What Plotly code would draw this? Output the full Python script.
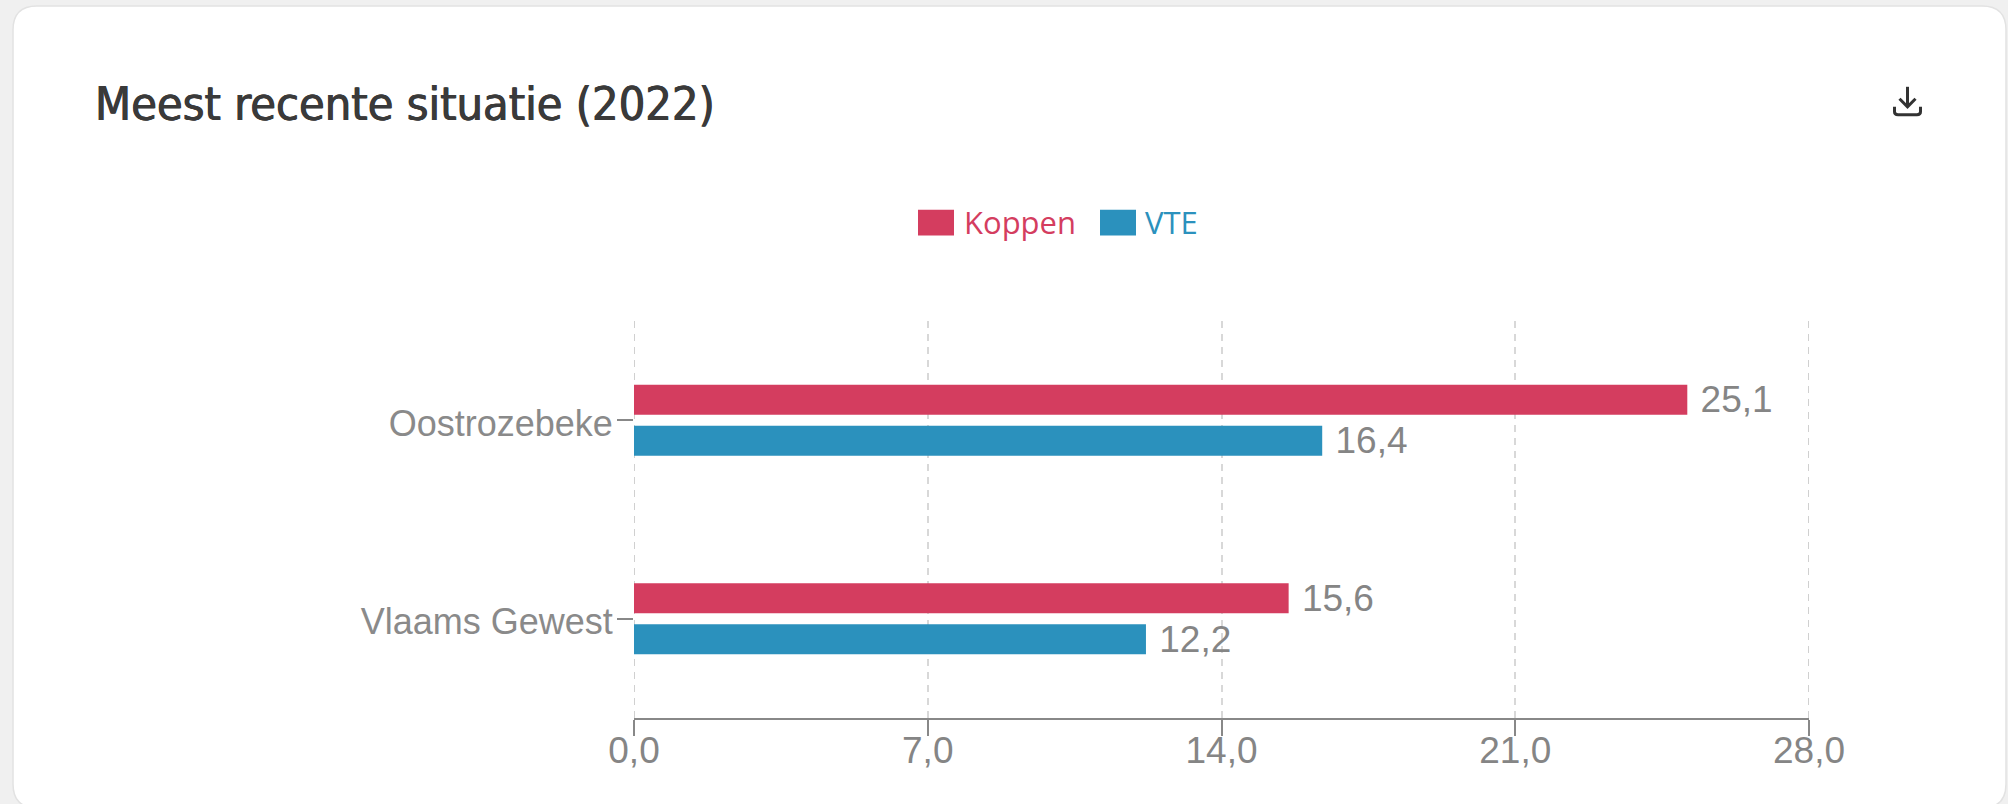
import plotly.graph_objects as go

categories = ["Oostrozebeke", "Vlaams Gewest"]
koppen = [25.1, 15.6]
vte = [16.4, 12.2]
x_ticks = [0, 7, 14, 21, 28]
edge_grid = [0, 28]
title_text = "Meest recente situatie (2022)"
series_names = ["Koppen", "VTE"]
RED = "#d43d5f"
BLUE = "#2b91bd"

W, H = 2008, 804
L, R, T, B = 634, 199, 320.5, 86
PW, PH = W - L - R, H - T - B


def fx(x):
    return (x - L) / PW


def fy(y):
    return 1 - (y - T) / PH


def path(*cmds):
    out = []
    for c in cmds:
        if isinstance(c, str):
            out.append(c)
        else:
            out.append(f"{fx(c[0]):.5f},{fy(c[1]):.5f}")
    return " ".join(out)


fig = go.Figure()
for name, vals, col in [(series_names[0], koppen, RED), (series_names[1], vte, BLUE)]:
    fig.add_trace(go.Bar(
        y=categories, x=vals, name=name, orientation="h",
        marker=dict(color=col, line=dict(width=0)),
        text=vals, texttemplate="\u00a0%{x:.1f}", textposition="outside", constraintext="none",
        textfont=dict(family="Liberation Sans", size=37, color="#858585"),
        cliponaxis=False, showlegend=False,
    ))

cx0, cy0, cx1, cy1, r = 13, 5, 2006, 808, 24
card = path("M", (cx0 + r, cy0), "L", (cx1 - r, cy0), "Q", (cx1, cy0), (cx1, cy0 + r),
            "L", (cx1, cy1 - r), "Q", (cx1, cy1), (cx1 - r, cy1),
            "L", (cx0 + r, cy1), "Q", (cx0, cy1), (cx0, cy1 - r),
            "L", (cx0, cy0 + r), "Q", (cx0, cy0), (cx0 + r, cy0), "Z")
shapes = [dict(type="path", xref="paper", yref="paper", path=card, fillcolor="#ffffff",
               line=dict(color="#e2e2e2", width=1.5), layer="below")]

for v in edge_grid:
    shapes.append(dict(type="line", xref="x", yref="paper", x0=v, x1=v, y0=0, y1=1, layer="below",
                       line=dict(color="#d0d0d0", width=2, dash="7px,6px")))


def swatch(x0, x1, col):
    return dict(type="rect", xref="paper", yref="paper", x0=fx(x0), x1=fx(x1), y0=fy(209), y1=fy(235),
                fillcolor=col, line=dict(width=0))


shapes += [swatch(918, 954, RED), swatch(1100, 1136, BLUE)]
icon = dict(color="#333333", width=3)
shapes += [
    dict(type="path", xref="paper", yref="paper", line=icon,
         path=path("M", (1907.5, 86), "L", (1907.5, 106))),
    dict(type="path", xref="paper", yref="paper", line=icon,
         path=path("M", (1899.5, 98), "L", (1907.5, 106), "L", (1915.5, 98))),
    dict(type="path", xref="paper", yref="paper", line=icon,
         path=path("M", (1894.5, 106), "L", (1894.5, 111), "Q", (1894.5, 114), (1898, 114),
                   "L", (1917, 114), "Q", (1920.5, 114), (1920.5, 111), "L", (1920.5, 106))),
]


def label(text, x, y, size, color, family, shadow=None):
    font = dict(family=family, size=size, color=color)
    if shadow:
        font["shadow"] = shadow
    return dict(text=text, xref="paper", yref="paper", x=fx(x), y=fy(y), xanchor="left", yanchor="middle",
                showarrow=False, borderpad=0, borderwidth=0, font=font)


annotations = [
    label(title_text, 95, 103, 46.5, "#3a3a3a", "DejaVu Sans Condensed, DejaVu Sans",
          "0.6px 0 0 #3a3a3a, -0.4px 0 0 #3a3a3a"),
    label(series_names[0], 964, 221, 31, RED, "Open Sans"),
    label(series_names[1], 1145, 221, 31, BLUE, "Open Sans"),
]

fig.update_layout(
    width=W, height=H, autosize=False,
    margin=dict(l=L, r=R, t=T, b=B, pad=0),
    paper_bgcolor="#f0f0f0", plot_bgcolor="rgba(0,0,0,0)",
    barmode="group", bargap=0.588, bargroupgap=0.263,
    separators=",.", showlegend=False,
    shapes=shapes, annotations=annotations,
    xaxis=dict(range=[0, 28], tickvals=x_ticks, tickformat=".1f", showgrid=True, gridcolor="#d8d8d8",
               gridwidth=2, griddash="7px,6px", zeroline=False, showline=True, linecolor="#888888", linewidth=2,
               ticks="outside", ticklen=16, tickwidth=2, tickcolor="#888888", ticklabelstandoff=-17,
               tickfont=dict(family="Liberation Sans", size=37, color="#858585")),
    yaxis=dict(categoryorder="array", categoryarray=categories, autorange="reversed", showgrid=False,
               zeroline=False, showline=False, ticks="outside", ticklen=16, tickwidth=2, tickcolor="#888888",
               ticklabelstandoff=-3, ticklabelshift=-3,
               tickfont=dict(family="Liberation Sans", size=36, color="#8a8a8a")),
)

fig.write_html("out.html", include_plotlyjs=True, config={"displayModeBar": False},
               post_script="document.body.style.margin='0';document.body.style.overflow='hidden';")
